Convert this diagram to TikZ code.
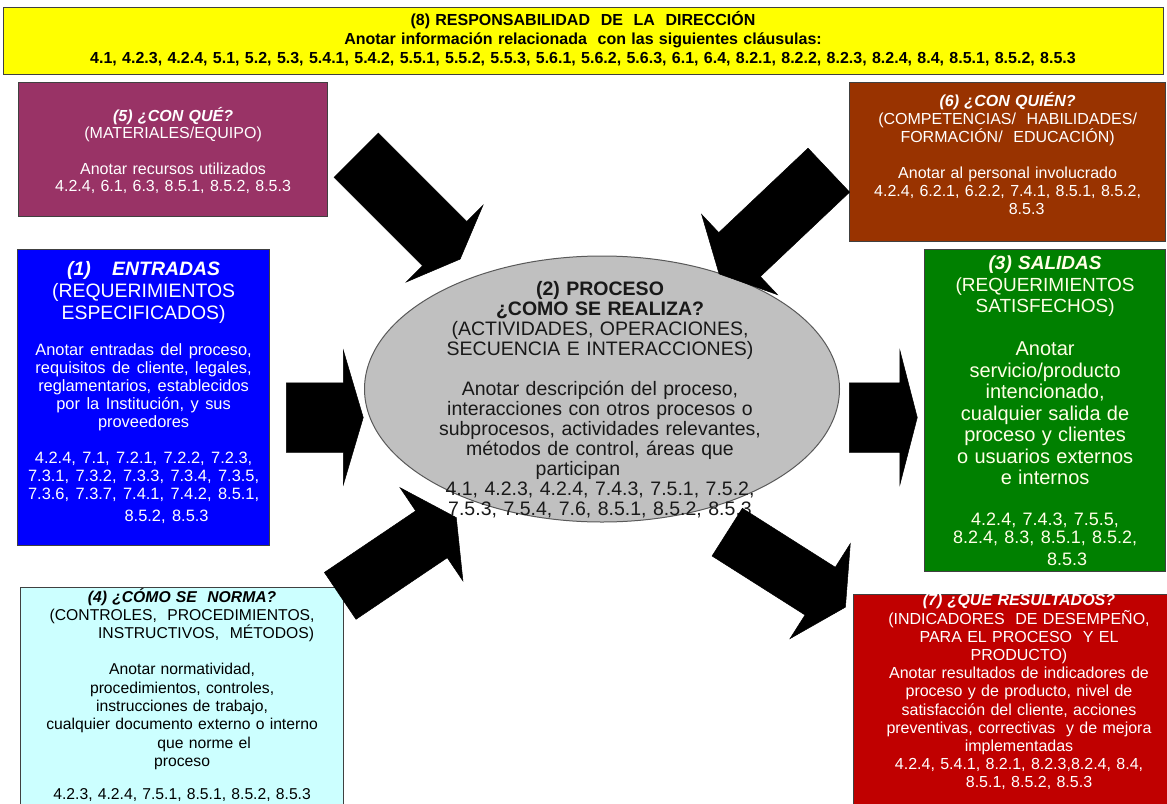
\documentclass[tikz,border=0pt]{standalone}
\usepackage{fontspec}
\setmainfont{Liberation Sans}
\usetikzlibrary{shapes.geometric,shapes.arrows}

\definecolor{amarillo}{HTML}{FFFF00}
\definecolor{morado}{HTML}{993366}
\definecolor{cafe}{HTML}{993300}
\definecolor{azul}{HTML}{0000FF}
\definecolor{gris}{HTML}{C0C0C0}
\definecolor{verde}{HTML}{008000}
\definecolor{celeste}{HTML}{CCFFFF}
\definecolor{rojo}{HTML}{C00000}
\definecolor{borde}{HTML}{404040}
\definecolor{crema}{HTML}{FFFFE6}

\newcommand{\tam}[2]{\fontsize{#1}{#2}\selectfont}

\tikzset{
  caja/.style={rectangle, draw=borde, line width=1.2pt, anchor=north west, inner sep=0pt},
  texto/.style={align=center, anchor=north, inner sep=0pt},
  flecha/.style n args={4}{single arrow, draw=black, fill=black, line width=0.5pt,
    inner sep=0pt, inner ysep=#2, single arrow head extend=#3,
    minimum height=#1, single arrow tip angle=#4, anchor=tail}
}

\begin{document}
\begin{tikzpicture}[x=1pt,y=-1pt]
  \useasboundingbox (0,0) rectangle (1167,803);
  \clip (0,0) rectangle (1167,803);

  % (8) Responsabilidad de la direccion
  \node[caja, fill=amarillo, minimum width=1160pt, minimum height=67pt] (c8) at (3,7) {};
  \node[texto, text width=1150pt, font=\tam{16}{19}\bfseries] (t8) at (583,11.5) {
    (8) RESPONSABILIDAD\ \ DE\ \ LA\ \ DIRECCIÓN\\
    Anotar información relacionada\ \ con las siguientes cláusulas:\\
    4.1, 4.2.3, 4.2.4, 5.1, 5.2, 5.3, 5.4.1, 5.4.2, 5.5.1, 5.5.2, 5.5.3, 5.6.1, 5.6.2, 5.6.3, 6.1, 6.4, 8.2.1, 8.2.2, 8.2.3, 8.2.4, 8.4, 8.5.1, 8.5.2, 8.5.3};

  % (5) Con que
  \node[caja, fill=morado, minimum width=309pt, minimum height=134pt] (c5) at (18,82) {};
  \node[texto, text width=300pt, text=white, font=\tam{16}{17.5}] (t5) at ([yshift=-25pt]c5.north) {
    {\bfseries\itshape (5) ¿CON QUÉ?}\\
    (MATERIALES/EQUIPO)\\[18pt]
    Anotar recursos utilizados\\
    4.2.4, 6.1, 6.3, 8.5.1, 8.5.2, 8.5.3};

  % (6) Con quien
  \node[caja, fill=cafe, minimum width=316pt, minimum height=159pt] (c6) at (849,82) {};
  \node[texto, text width=310pt, text=white, font=\tam{16}{18}] (t6) at ([yshift=-10pt]c6.north) {
    {\bfseries\itshape (6) ¿CON QUIÉN?}\\
    (COMPETENCIAS/\ \ HABILIDADES/\\
    FORMACIÓN/\ \ EDUCACIÓN)\\[18pt]
    Anotar al personal involucrado\\
    4.2.4, 6.2.1, 6.2.2, 7.4.1, 8.5.1, 8.5.2,\\
    \hspace*{38pt}8.5.3};

  % (1) Entradas
  \node[caja, fill=azul, minimum width=252pt, minimum height=296pt] (c1) at (17,249) {};
  \node[texto, text width=248pt, text=white, font=\tam{19.4}{22}] (t1) at ([yshift=-12pt]c1.north) {
    {\bfseries\itshape (1)\hspace{1.1em}ENTRADAS}\\
    (REQUERIMIENTOS\\
    ESPECIFICADOS)\\[18pt]
    \tam{16.4}{18}Anotar entradas del proceso,\\
    requisitos de cliente, legales,\\
    reglamentarios, establecidos\\
    por la Institución, y sus\\
    proveedores\\[18pt]
    4.2.4, 7.1, 7.2.1, 7.2.2, 7.2.3,\\
    7.3.1, 7.3.2, 7.3.3, 7.3.4, 7.3.5,\\
    7.3.6, 7.3.7, 7.4.1, 7.4.2, 8.5.1,\\
    \hspace*{46pt}8.5.2, 8.5.3};

  % (3) Salidas
  \node[caja, fill=verde, minimum width=241pt, minimum height=322pt] (c3) at (924,249) {};
  \node[texto, text width=238pt, text=crema, font=\tam{19}{21.5}] (t3) at ([yshift=-7pt]c3.north) {
    {\bfseries\itshape (3) SALIDAS}\\
    (REQUERIMIENTOS\\
    SATISFECHOS)\\[21.5pt]
    \tam{20}{21.5}Anotar\\
    servicio/producto\\
    intencionado,\\
    cualquier salida de\\
    proceso y clientes\\
    o usuarios externos\\
    e internos\\[22pt]
    \tam{18}{18.5}4.2.4, 7.4.3, 7.5.5,\\
    8.2.4, 8.3, 8.5.1, 8.5.2,\\
    \hspace*{44pt}8.5.3};

  % (4) Como se norma
  \node[caja, fill=celeste, minimum width=323pt, minimum height=230pt] (c4) at (20,587) {};
  \node[texto, text width=318pt, text=black, font=\tam{15.7}{18.3}] (t4) at ([yshift=-1pt]c4.north) {
    {\bfseries\itshape (4) ¿CÓMO SE\ \ NORMA?}\\
    (CONTROLES,\ \ PROCEDIMIENTOS,\\
    \hspace*{48pt}INSTRUCTIVOS,\ \ MÉTODOS)\\[18pt]
    Anotar normatividad,\\
    procedimientos, controles,\\
    instrucciones de trabajo,\\
    cualquier documento externo o interno\\
    \hspace*{44pt}que norme el\\
    proceso\\[15pt]
    4.2.3, 4.2.4, 7.5.1, 8.5.1, 8.5.2, 8.5.3};

  % (7) Que resultados
  \node[caja, fill=rojo, minimum width=330pt, minimum height=230pt] (c7) at (853,594) {};
  \node[texto, text width=310pt, text=white, font=\tam{16}{18.2}] (t7) at (1019,594) {
    {\bfseries\itshape (7) ¿QUE RESULTADOS?}\\
    (INDICADORES\ \ DE DESEMPEÑO,\\
    PARA EL PROCESO\ \ Y EL\\
    PRODUCTO)\\
    Anotar resultados de indicadores de\\
    proceso y de producto, nivel de\\
    satisfacción del cliente, acciones\\
    preventivas, correctivas\ \ y de mejora\\
    implementadas\\
    4.2.4, 5.4.1, 8.2.1, 8.2.3,8.2.4, 8.4,\\
    \hspace*{20pt}8.5.1, 8.5.2, 8.5.3};

  % (2) Proceso
  \node[ellipse, draw=black!65, fill=gris, line width=1pt, minimum width=475pt,
        minimum height=266pt, inner sep=0pt] (proc) at (602,389) {};
  \node[texto, text width=420pt, text=black!90, font=\tam{19.5}{20}] (tproc) at (600,281) {
    {\bfseries (2) PROCESO}\\
    {\bfseries ¿COMO SE REALIZA?}\\
    (ACTIVIDADES, OPERACIONES,\\
    SECUENCIA E INTERACCIONES)\\[20pt]
    Anotar descripción del proceso,\\
    interacciones con otros procesos o\\
    subprocesos, actividades relevantes,\\
    métodos de control, áreas que\\
    \hspace*{-44pt}participan\\
    4.1, 4.2.3, 4.2.4, 7.4.3, 7.5.1, 7.5.2,\\
    7.5.3, 7.5.4, 7.6, 8.5.1, 8.5.2, 8.5.3};

  % Flechas
  \node[flecha={77pt}{34.5pt}{32.5pt}{147}] (a1) at (286,417.5) {};
  \node[flecha={68pt}{34.5pt}{32.5pt}{151}] (a2) at (849,417.5) {};
  \node[flecha={147pt}{31pt}{23pt}{136}, rotate=-45] (a5) at (356,155) {};
  \node[flecha={151pt}{30pt}{25pt}{126}, rotate=-136.6] (a6) at (829,170) {};
  \node[flecha={140pt}{28pt}{28pt}{124}, rotate=34] (a4) at (340,596) {};
  \node[flecha={140pt}{28pt}{28pt}{124}, rotate=-32.4] (a7) at (727,532) {};

\end{tikzpicture}
\end{document}
